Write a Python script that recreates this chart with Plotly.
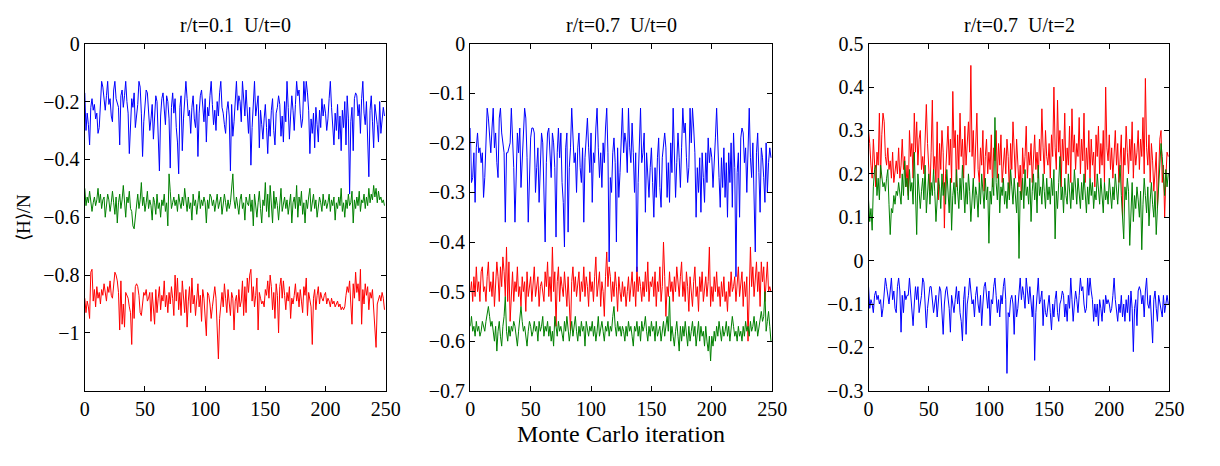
import plotly.graph_objects as go

# Monte Carlo iteration axis (250 sweeps per run)
iterations = list(range(250))

panel_titles = ["r/t=0.1\u00a0\u00a0U/t=0", "r/t=0.7\u00a0\u00a0U/t=0", "r/t=0.7\u00a0\u00a0U/t=2"]

# ---- panel 1: r/t=0.1, U/t=0 ----
p1_blue = [
    -0.17, -0.30, -0.24, -0.28, -0.35, -0.22, -0.19, -0.23, -0.21, -0.26, -0.24, -0.31, -0.29, -0.18, -0.13, -0.15, -0.20, -0.23, -0.18, -0.13, -0.21, -0.19, -0.25, -0.27, -0.16,
    -0.13, -0.19, -0.21, -0.22, -0.35, -0.18, -0.16, -0.22, -0.18, -0.13, -0.20, -0.24, -0.38, -0.27, -0.19, -0.22, -0.17, -0.29, -0.25, -0.21, -0.13, -0.15, -0.24, -0.39, -0.27,
    -0.20, -0.16, -0.17, -0.22, -0.30, -0.26, -0.21, -0.33, -0.24, -0.18, -0.20, -0.30, -0.44, -0.25, -0.19, -0.17, -0.22, -0.28, -0.18, -0.20, -0.26, -0.43, -0.22, -0.17, -0.24,
    -0.19, -0.29, -0.34, -0.45, -0.22, -0.18, -0.37, -0.26, -0.21, -0.13, -0.19, -0.25, -0.23, -0.31, -0.22, -0.18, -0.26, -0.29, -0.21, -0.39, -0.24, -0.18, -0.16, -0.21, -0.27,
    -0.19, -0.34, -0.22, -0.25, -0.18, -0.13, -0.21, -0.28, -0.23, -0.30, -0.20, -0.25, -0.17, -0.13, -0.22, -0.24, -0.28, -0.31, -0.23, -0.20, -0.25, -0.44, -0.21, -0.32, -0.27,
    -0.19, -0.13, -0.23, -0.18, -0.20, -0.27, -0.13, -0.21, -0.25, -0.16, -0.23, -0.31, -0.22, -0.42, -0.29, -0.19, -0.13, -0.25, -0.22, -0.18, -0.36, -0.23, -0.28, -0.33, -0.26,
    -0.21, -0.29, -0.38, -0.26, -0.32, -0.23, -0.19, -0.30, -0.35, -0.24, -0.22, -0.18, -0.21, -0.32, -0.25, -0.34, -0.20, -0.27, -0.13, -0.22, -0.33, -0.25, -0.18, -0.23, -0.30,
    -0.21, -0.13, -0.18, -0.16, -0.24, -0.29, -0.26, -0.13, -0.20, -0.13, -0.17, -0.23, -0.38, -0.26, -0.31, -0.24, -0.36, -0.22, -0.28, -0.34, -0.23, -0.29, -0.19, -0.25, -0.21,
    -0.24, -0.30, -0.26, -0.19, -0.13, -0.22, -0.28, -0.35, -0.24, -0.30, -0.21, -0.33, -0.25, -0.37, -0.23, -0.29, -0.20, -0.35, -0.18, -0.26, -0.52, -0.27, -0.22, -0.37, -0.19,
    -0.17, -0.18, -0.25, -0.21, -0.31, -0.19, -0.13, -0.24, -0.28, -0.20, -0.34, -0.46, -0.23, -0.18, -0.27, -0.36, -0.21, -0.24, -0.28, -0.34, -0.20, -0.31, -0.25, -0.22, -0.25,
]
p1_green = [
    -0.50, -0.56, -0.53, -0.55, -0.51, -0.54, -0.58, -0.55, -0.53, -0.56, -0.54, -0.50, -0.55, -0.52, -0.57, -0.54, -0.53, -0.60, -0.56, -0.52, -0.54, -0.58, -0.55, -0.51, -0.55,
    -0.59, -0.53, -0.62, -0.55, -0.52, -0.57, -0.54, -0.49, -0.56, -0.60, -0.53, -0.55, -0.51, -0.57, -0.58, -0.63, -0.64, -0.59, -0.55, -0.52, -0.57, -0.54, -0.48, -0.56, -0.53,
    -0.58, -0.55, -0.51, -0.57, -0.54, -0.56, -0.61, -0.53, -0.55, -0.59, -0.52, -0.57, -0.55, -0.60, -0.54, -0.56, -0.52, -0.58, -0.55, -0.63, -0.45, -0.51, -0.57, -0.55, -0.53,
    -0.56, -0.54, -0.58, -0.52, -0.55, -0.57, -0.53, -0.56, -0.50, -0.55, -0.58, -0.53, -0.57, -0.55, -0.61, -0.52, -0.56, -0.54, -0.59, -0.55, -0.51, -0.57, -0.54, -0.56, -0.53,
    -0.55, -0.62, -0.54, -0.57, -0.52, -0.53, -0.56, -0.54, -0.58, -0.55, -0.52, -0.57, -0.55, -0.53, -0.59, -0.56, -0.52, -0.55, -0.58, -0.54, -0.57, -0.55, -0.51, -0.45, -0.54,
    -0.57, -0.53, -0.56, -0.59, -0.54, -0.52, -0.57, -0.55, -0.61, -0.53, -0.55, -0.56, -0.52, -0.58, -0.54, -0.63, -0.52, -0.56, -0.60, -0.55, -0.51, -0.57, -0.62, -0.54, -0.56,
    -0.48, -0.58, -0.52, -0.60, -0.49, -0.55, -0.62, -0.51, -0.57, -0.53, -0.56, -0.61, -0.54, -0.50, -0.58, -0.55, -0.53, -0.57, -0.54, -0.59, -0.56, -0.52, -0.62, -0.55, -0.53,
    -0.57, -0.49, -0.60, -0.53, -0.56, -0.51, -0.59, -0.55, -0.62, -0.54, -0.57, -0.53, -0.50, -0.58, -0.55, -0.52, -0.57, -0.54, -0.60, -0.56, -0.53, -0.55, -0.58, -0.52, -0.56,
    -0.54, -0.57, -0.55, -0.52, -0.58, -0.54, -0.56, -0.53, -0.61, -0.55, -0.57, -0.53, -0.56, -0.50, -0.58, -0.55, -0.60, -0.54, -0.57, -0.52, -0.56, -0.55, -0.51, -0.62, -0.54,
    -0.57, -0.53, -0.56, -0.51, -0.58, -0.54, -0.55, -0.52, -0.57, -0.53, -0.56, -0.50, -0.55, -0.52, -0.54, -0.49, -0.53, -0.50, -0.55, -0.51, -0.54, -0.53, -0.55, -0.54, -0.56,
]
p1_red = [
    -0.88, -0.93, -0.89, -0.91, -0.95, -0.79, -0.78, -0.89, -0.85, -0.91, -0.84, -0.88, -0.86, -0.90, -0.85, -0.87, -0.83, -0.86, -0.89, -0.84, -0.86, -0.82, -0.87, -0.88, -0.83,
    -0.79, -0.80, -0.82, -0.86, -0.99, -0.82, -0.97, -0.90, -0.98, -0.86, -0.87, -0.88, -0.91, -0.93, -1.04, -0.86, -0.95, -0.84, -0.83, -0.84, -0.87, -0.93, -0.94, -0.89, -0.86,
    -0.87, -0.85, -0.89, -0.88, -0.86, -0.96, -0.86, -0.91, -0.97, -0.85, -0.93, -0.88, -0.84, -0.92, -0.87, -0.89, -0.82, -0.91, -0.87, -0.93, -0.86, -0.90, -0.84, -0.88, -0.94,
    -0.80, -0.89, -0.81, -0.92, -0.86, -0.94, -0.82, -0.87, -0.93, -0.85, -0.98, -0.89, -0.84, -0.93, -0.81, -0.90, -0.87, -0.94, -0.86, -0.83, -0.91, -0.87, -0.96, -0.85, -0.88,
    -0.94, -1.01, -0.86, -0.87, -0.90, -0.95, -0.91, -0.86, -0.84, -0.88, -0.97, -1.09, -0.95, -0.89, -0.86, -0.91, -0.83, -0.88, -0.93, -0.85, -0.91, -0.94, -0.86, -0.88, -0.99,
    -0.89, -0.87, -0.93, -0.85, -0.91, -0.89, -0.82, -0.94, -0.84, -0.93, -0.81, -0.86, -0.80, -0.78, -0.89, -0.84, -0.91, -0.87, -0.81, -0.99, -0.86, -0.88, -0.90, -0.89, -0.91,
    -0.85, -0.87, -0.82, -0.88, -0.80, -0.84, -0.92, -0.86, -0.95, -0.83, -0.87, -1.00, -0.84, -0.81, -0.88, -0.82, -0.87, -0.92, -0.86, -0.89, -0.84, -0.95, -0.88, -0.90, -0.87,
    -0.83, -0.89, -0.86, -0.91, -0.85, -0.89, -0.93, -0.84, -0.87, -0.81, -0.94, -0.86, -0.89, -0.91, -1.04, -0.88, -0.85, -0.92, -0.87, -0.84, -0.90, -0.86, -0.88, -0.89, -0.87,
    -0.86, -0.90, -0.88, -0.89, -0.91, -0.88, -0.90, -0.89, -0.91, -0.90, -0.89, -0.91, -0.90, -0.92, -0.91, -0.92, -0.91, -0.87, -0.84, -0.86, -0.82, -0.90, -0.97, -0.83, -0.88,
    -0.79, -0.86, -0.83, -0.89, -0.78, -0.97, -0.85, -0.90, -0.83, -0.87, -0.84, -0.92, -0.86, -0.88, -0.85, -0.92, -0.98, -1.05, -0.90, -0.88, -0.87, -0.89, -0.86, -0.88, -0.92,
]

# ---- panel 2: r/t=0.7, U/t=0 ----
p2_blue = [
    -0.17, -0.28, -0.27, -0.22, -0.32, -0.21, -0.18, -0.22, -0.21, -0.24, -0.22, -0.31, -0.27, -0.17, -0.13, -0.15, -0.19, -0.22, -0.17, -0.13, -0.21, -0.18, -0.24, -0.27, -0.15,
    -0.13, -0.18, -0.20, -0.22, -0.36, -0.22, -0.22, -0.21, -0.20, -0.13, -0.19, -0.25, -0.36, -0.26, -0.18, -0.22, -0.17, -0.29, -0.24, -0.21, -0.13, -0.15, -0.23, -0.36, -0.26,
    -0.19, -0.17, -0.17, -0.18, -0.30, -0.25, -0.21, -0.32, -0.23, -0.18, -0.20, -0.29, -0.40, -0.24, -0.18, -0.17, -0.21, -0.27, -0.18, -0.20, -0.25, -0.39, -0.22, -0.17, -0.23,
    -0.18, -0.28, -0.32, -0.41, -0.21, -0.18, -0.38, -0.25, -0.21, -0.13, -0.18, -0.24, -0.22, -0.30, -0.21, -0.18, -0.25, -0.28, -0.21, -0.36, -0.23, -0.18, -0.15, -0.21, -0.26,
    -0.18, -0.32, -0.22, -0.24, -0.17, -0.13, -0.21, -0.27, -0.22, -0.29, -0.20, -0.24, -0.17, -0.13, -0.22, -0.44, -0.27, -0.30, -0.22, -0.19, -0.24, -0.40, -0.21, -0.31, -0.26,
    -0.19, -0.13, -0.22, -0.18, -0.20, -0.26, -0.13, -0.21, -0.24, -0.16, -0.22, -0.30, -0.22, -0.46, -0.28, -0.19, -0.13, -0.24, -0.22, -0.18, -0.34, -0.22, -0.27, -0.31, -0.25,
    -0.21, -0.28, -0.35, -0.25, -0.31, -0.23, -0.19, -0.29, -0.33, -0.23, -0.21, -0.18, -0.21, -0.31, -0.24, -0.32, -0.20, -0.26, -0.13, -0.22, -0.31, -0.24, -0.18, -0.23, -0.29,
    -0.21, -0.13, -0.18, -0.16, -0.23, -0.28, -0.25, -0.13, -0.20, -0.13, -0.17, -0.22, -0.35, -0.25, -0.30, -0.23, -0.34, -0.22, -0.27, -0.32, -0.22, -0.28, -0.19, -0.24, -0.21,
    -0.23, -0.29, -0.25, -0.19, -0.13, -0.22, -0.27, -0.33, -0.23, -0.29, -0.21, -0.31, -0.24, -0.35, -0.22, -0.28, -0.20, -0.33, -0.18, -0.25, -0.47, -0.26, -0.22, -0.35, -0.19,
    -0.17, -0.18, -0.24, -0.21, -0.30, -0.19, -0.13, -0.23, -0.27, -0.20, -0.32, -0.42, -0.22, -0.18, -0.26, -0.34, -0.21, -0.23, -0.27, -0.32, -0.20, -0.30, -0.24, -0.21, -0.23,
]
p2_green = [
    -0.57, -0.55, -0.58, -0.57, -0.59, -0.56, -0.58, -0.57, -0.59, -0.58, -0.56, -0.57, -0.58, -0.56, -0.54, -0.53, -0.55, -0.57, -0.56, -0.58, -0.60, -0.57, -0.62, -0.58, -0.56,
    -0.59, -0.61, -0.57, -0.55, -0.51, -0.58, -0.60, -0.57, -0.59, -0.57, -0.58, -0.56, -0.57, -0.59, -0.61, -0.58, -0.55, -0.53, -0.56, -0.58, -0.57, -0.59, -0.61, -0.58, -0.56,
    -0.57, -0.59, -0.58, -0.56, -0.58, -0.57, -0.60, -0.56, -0.58, -0.57, -0.55, -0.59, -0.57, -0.58, -0.56, -0.59, -0.57, -0.60, -0.58, -0.61, -0.55, -0.57, -0.59, -0.56, -0.58,
    -0.57, -0.59, -0.60, -0.56, -0.58, -0.55, -0.57, -0.60, -0.58, -0.56, -0.59, -0.57, -0.55, -0.58, -0.60, -0.57, -0.59, -0.56, -0.58, -0.57, -0.61, -0.56, -0.58, -0.59, -0.57,
    -0.58, -0.56, -0.59, -0.57, -0.60, -0.58, -0.55, -0.59, -0.57, -0.56, -0.58, -0.60, -0.57, -0.58, -0.56, -0.59, -0.57, -0.58, -0.55, -0.53, -0.57, -0.59, -0.56, -0.58, -0.57,
    -0.59, -0.57, -0.58, -0.60, -0.57, -0.59, -0.56, -0.58, -0.57, -0.59, -0.61, -0.57, -0.58, -0.56, -0.59, -0.57, -0.60, -0.56, -0.58, -0.57, -0.55, -0.58, -0.60, -0.57, -0.59,
    -0.56, -0.58, -0.57, -0.60, -0.56, -0.59, -0.58, -0.57, -0.60, -0.58, -0.56, -0.59, -0.57, -0.55, -0.58, -0.51, -0.60, -0.57, -0.59, -0.61, -0.58, -0.56, -0.59, -0.62, -0.57,
    -0.60, -0.57, -0.59, -0.56, -0.58, -0.61, -0.57, -0.60, -0.58, -0.56, -0.59, -0.57, -0.61, -0.58, -0.56, -0.60, -0.57, -0.59, -0.58, -0.61, -0.57, -0.60, -0.62, -0.59, -0.64,
    -0.59, -0.61, -0.58, -0.60, -0.57, -0.59, -0.56, -0.58, -0.60, -0.57, -0.59, -0.58, -0.56, -0.59, -0.57, -0.60, -0.58, -0.55, -0.57, -0.59, -0.58, -0.60, -0.57, -0.59, -0.58,
    -0.60, -0.57, -0.59, -0.56, -0.58, -0.57, -0.59, -0.56, -0.58, -0.57, -0.55, -0.58, -0.56, -0.59, -0.57, -0.55, -0.54, -0.56, -0.55, -0.50, -0.58, -0.56, -0.54, -0.57, -0.60,
]
p2_red = [
    -0.50, -0.48, -0.52, -0.47, -0.51, -0.45, -0.50, -0.48, -0.52, -0.46, -0.45, -0.50, -0.49, -0.52, -0.47, -0.44, -0.50, -0.48, -0.51, -0.46, -0.53, -0.49, -0.44, -0.47, -0.52,
    -0.45, -0.49, -0.43, -0.46, -0.51, -0.41, -0.52, -0.44, -0.56, -0.49, -0.46, -0.52, -0.48, -0.50, -0.45, -0.51, -0.49, -0.53, -0.47, -0.50, -0.48, -0.54, -0.46, -0.51, -0.49,
    -0.47, -0.52, -0.48, -0.45, -0.51, -0.49, -0.47, -0.53, -0.49, -0.48, -0.50, -0.52, -0.46, -0.49, -0.44, -0.51, -0.47, -0.52, -0.41, -0.50, -0.46, -0.57, -0.48, -0.45, -0.52,
    -0.47, -0.49, -0.51, -0.46, -0.50, -0.53, -0.47, -0.52, -0.58, -0.48, -0.45, -0.50, -0.47, -0.51, -0.49, -0.46, -0.52, -0.48, -0.50, -0.45, -0.51, -0.47, -0.49, -0.53, -0.46,
    -0.50, -0.48, -0.52, -0.47, -0.43, -0.51, -0.49, -0.46, -0.53, -0.48, -0.50, -0.55, -0.47, -0.42, -0.49, -0.45, -0.47, -0.52, -0.48, -0.51, -0.46, -0.49, -0.54, -0.47, -0.50,
    -0.52, -0.48, -0.51, -0.49, -0.53, -0.50, -0.47, -0.52, -0.49, -0.46, -0.51, -0.48, -0.53, -0.45, -0.50, -0.47, -0.49, -0.52, -0.48, -0.51, -0.46, -0.50, -0.44, -0.52, -0.48,
    -0.49, -0.47, -0.51, -0.46, -0.53, -0.48, -0.50, -0.45, -0.52, -0.49, -0.40, -0.47, -0.55, -0.49, -0.51, -0.46, -0.50, -0.48, -0.52, -0.47, -0.50, -0.45, -0.49, -0.51, -0.47,
    -0.44, -0.51, -0.48, -0.52, -0.46, -0.49, -0.54, -0.47, -0.50, -0.53, -0.48, -0.45, -0.51, -0.49, -0.54, -0.47, -0.50, -0.46, -0.52, -0.49, -0.47, -0.51, -0.48, -0.41, -0.53,
    -0.49, -0.52, -0.47, -0.50, -0.46, -0.51, -0.49, -0.53, -0.48, -0.51, -0.47, -0.52, -0.50, -0.54, -0.48, -0.51, -0.46, -0.50, -0.49, -0.47, -0.52, -0.48, -0.45, -0.51, -0.49,
    -0.46, -0.53, -0.48, -0.51, -0.47, -0.60, -0.52, -0.41, -0.49, -0.45, -0.51, -0.47, -0.44, -0.50, -0.46, -0.53, -0.44, -0.48, -0.45, -0.52, -0.47, -0.44, -0.50, -0.49, -0.50,
]

# ---- panel 3: r/t=0.7, U/t=2 ----
p3_blue = [
    -0.06, -0.11, -0.09, -0.10, -0.12, -0.08, -0.07, -0.09, -0.08, -0.10, -0.09, -0.13, -0.11, -0.07, -0.04, -0.06, -0.08, -0.10, -0.07, -0.04, -0.09, -0.07, -0.11, -0.12, -0.06,
    -0.04, -0.07, -0.165, -0.08, -0.12, -0.07, -0.09, -0.08, -0.08, -0.04, -0.08, -0.11, -0.15, -0.10, -0.06, -0.09, -0.06, -0.12, -0.10, -0.08, -0.04, -0.05, -0.10, -0.155, -0.11,
    -0.08, -0.06, -0.06, -0.09, -0.12, -0.10, -0.08, -0.13, -0.09, -0.06, -0.07, -0.12, -0.17, -0.10, -0.07, -0.06, -0.09, -0.11, -0.165, -0.08, -0.10, -0.12, -0.09, -0.06, -0.10,
    -0.07, -0.12, -0.14, -0.185, -0.09, -0.06, -0.17, -0.10, -0.08, -0.04, -0.07, -0.10, -0.09, -0.13, -0.08, -0.06, -0.10, -0.12, -0.08, -0.15, -0.10, -0.06, -0.05, -0.08, -0.11,
    -0.07, -0.15, -0.09, -0.10, -0.06, -0.04, -0.08, -0.12, -0.09, -0.13, -0.08, -0.10, -0.06, -0.04, -0.09, -0.26, -0.12, -0.13, -0.09, -0.08, -0.10, -0.17, -0.08, -0.13, -0.11,
    -0.07, -0.04, -0.09, -0.06, -0.08, -0.11, -0.04, -0.08, -0.10, -0.06, -0.09, -0.13, -0.08, -0.23, -0.12, -0.07, -0.04, -0.10, -0.09, -0.07, -0.15, -0.09, -0.12, -0.13, -0.10,
    -0.08, -0.12, -0.16, -0.10, -0.13, -0.09, -0.07, -0.12, -0.14, -0.10, -0.09, -0.07, -0.08, -0.13, -0.10, -0.14, -0.08, -0.11, -0.04, -0.09, -0.14, -0.10, -0.07, -0.09, -0.12,
    -0.08, -0.04, -0.07, -0.06, -0.10, -0.12, -0.11, -0.04, -0.08, -0.04, -0.07, -0.09, -0.14, -0.10, -0.13, -0.10, -0.15, -0.09, -0.11, -0.14, -0.09, -0.12, -0.08, -0.10, -0.09,
    -0.10, -0.12, -0.11, -0.08, -0.04, -0.09, -0.12, -0.14, -0.10, -0.12, -0.08, -0.13, -0.10, -0.14, -0.09, -0.12, -0.08, -0.14, -0.07, -0.11, -0.21, -0.11, -0.09, -0.15, -0.07,
    -0.06, -0.07, -0.10, -0.08, -0.13, -0.07, -0.04, -0.10, -0.11, -0.08, -0.14, -0.19, -0.09, -0.07, -0.11, -0.14, -0.08, -0.10, -0.12, -0.13, -0.08, -0.12, -0.10, -0.08, -0.10,
]
p3_green = [
    0.14, 0.09, 0.12, 0.07, 0.17, 0.21, 0.22, 0.15, 0.19, 0.14, 0.22, 0.20, 0.17, 0.18, 0.16, 0.19, 0.21, 0.13, 0.06, 0.12, 0.11, 0.15, 0.13, 0.16, 0.15,
    0.18, 0.16, 0.13, 0.20, 0.15, 0.23, 0.17, 0.19, 0.14, 0.21, 0.16, 0.18, 0.13, 0.25, 0.17, 0.06, 0.20, 0.15, 0.12, 0.16, 0.19, 0.14, 0.22, 0.11, 0.17,
    0.20, 0.13, 0.18, 0.15, 0.21, 0.16, 0.09, 0.14, 0.19, 0.17, 0.12, 0.20, 0.15, 0.18, 0.13, 0.21, 0.16, 0.11, 0.19, 0.07, 0.15, 0.18, 0.13, 0.21, 0.16,
    0.12, 0.19, 0.14, 0.22, 0.15, 0.11, 0.18, 0.13, 0.20, 0.16, 0.09, 0.14, 0.19, 0.12, 0.17, 0.15, 0.10, 0.18, 0.13, 0.20, 0.16, 0.12, 0.19, 0.14, 0.17,
    0.04, 0.16, 0.13, 0.19, 0.15, 0.33, 0.18, 0.14, 0.20, 0.11, 0.17, 0.15, 0.19, 0.13, 0.16, 0.12, 0.18, 0.14, 0.21, 0.17, 0.13, 0.19, 0.15, 0.11, 0.18,
    0.005, 0.16, 0.14, 0.19, 0.12, 0.21, 0.15, 0.17, 0.13, 0.19, 0.09, 0.16, 0.20, 0.14, 0.18, 0.11, 0.22, 0.15, 0.17, 0.13, 0.20, 0.16, 0.12, 0.19, 0.14,
    0.17, 0.13, 0.19, 0.15, 0.21, 0.05, 0.16, 0.12, 0.18, 0.24, 0.14, 0.17, 0.11, 0.19, 0.15, 0.13, 0.20, 0.16, 0.12, 0.18, 0.14, 0.21, 0.17, 0.13, 0.19,
    0.15, 0.12, 0.18, 0.14, 0.20, 0.16, 0.11, 0.17, 0.13, 0.19, 0.15, 0.18, 0.12, 0.16, 0.14, 0.20, 0.17, 0.13, 0.19, 0.15, 0.11, 0.18, 0.14, 0.16, 0.13,
    0.19, 0.15, 0.12, 0.17, 0.14, 0.20, 0.16, 0.13, 0.18, 0.22, 0.15, 0.11, 0.05, 0.17, 0.14, 0.19, 0.16, 0.035, 0.13, 0.18, 0.09, 0.15, 0.12, 0.17, 0.14,
    0.10, 0.16, 0.025, 0.13, 0.19, 0.15, 0.11, 0.17, 0.08, 0.14, 0.18, 0.13, 0.10, 0.16, 0.06, 0.12, 0.18, 0.22, 0.27, 0.24, 0.19, 0.15, 0.21, 0.17, 0.20,
]
p3_red = [
    0.30, 0.27, 0.22, 0.19, 0.28, 0.20, 0.17, 0.25, 0.22, 0.34, 0.19, 0.29, 0.34, 0.32, 0.24, 0.22, 0.26, 0.21, 0.23, 0.19, 0.25, 0.18, 0.21, 0.23, 0.20,
    0.26, 0.19, 0.22, 0.28, 0.21, 0.24, 0.17, 0.22, 0.15, 0.30, 0.24, 0.27, 0.19, 0.34, 0.25, 0.32, 0.22, 0.28, 0.30, 0.21, 0.24, 0.20, 0.28, 0.36, 0.27,
    0.22, 0.16, 0.25, 0.37, 0.20, 0.24, 0.18, 0.32, 0.14, 0.27, 0.21, 0.30, 0.25, 0.075, 0.20, 0.27, 0.31, 0.22, 0.28, 0.18, 0.39, 0.26, 0.30, 0.17, 0.29,
    0.21, 0.34, 0.24, 0.28, 0.19, 0.31, 0.22, 0.26, 0.32, 0.25, 0.45, 0.24, 0.30, 0.19, 0.27, 0.34, 0.21, 0.18, 0.26, 0.22, 0.30, 0.16, 0.24, 0.28, 0.20,
    0.25, 0.21, 0.29, 0.17, 0.26, 0.23, 0.30, 0.19, 0.27, 0.22, 0.29, 0.18, 0.23, 0.26, 0.20, 0.28, 0.24, 0.15, 0.27, 0.21, 0.32, 0.25, 0.19, 0.28, 0.23,
    0.17, 0.22, 0.14, 0.26, 0.20, 0.24, 0.31, 0.19, 0.25, 0.22, 0.27, 0.18, 0.23, 0.29, 0.21, 0.25, 0.19, 0.28, 0.23, 0.35, 0.26, 0.20, 0.30, 0.24, 0.22,
    0.27, 0.19, 0.29, 0.24, 0.40, 0.26, 0.21, 0.37, 0.25, 0.30, 0.17, 0.28, 0.23, 0.34, 0.20, 0.26, 0.22, 0.31, 0.18, 0.35, 0.25, 0.29, 0.21, 0.27, 0.24,
    0.33, 0.20, 0.28, 0.23, 0.34, 0.18, 0.26, 0.21, 0.30, 0.19, 0.28, 0.22, 0.25, 0.17, 0.29, 0.24, 0.31, 0.20, 0.27, 0.22, 0.30, 0.18, 0.40, 0.26, 0.23,
    0.29, 0.21, 0.26, 0.19, 0.25, 0.30, 0.22, 0.27, 0.18, 0.24, 0.29, 0.10, 0.26, 0.22, 0.31, 0.25, 0.20, 0.28, 0.23, 0.32, 0.19, 0.27, 0.22, 0.25, 0.30,
    0.21, 0.28, 0.24, 0.33, 0.20, 0.42, 0.26, 0.22, 0.29, 0.18, 0.27, 0.23, 0.16, 0.21, 0.25, 0.12, 0.20, 0.28, 0.30, 0.18, 0.22, 0.10, 0.19, 0.25, 0.24,
]

# y-axis ticks per panel
y_ranges = [[-1.2, 0], [-0.7, 0], [-0.3, 0.5]]
y_tickvals = [
    [-1, -0.8, -0.6, -0.4, -0.2, 0],
    [-0.7, -0.6, -0.5, -0.4, -0.3, -0.2, -0.1, 0],
    [-0.3, -0.2, -0.1, 0, 0.1, 0.2, 0.3, 0.4, 0.5],
]
y_ticktext = [
    ["\u22121", "\u22120.8", "\u22120.6", "\u22120.4", "\u22120.2", "0"],
    ["\u22120.7", "\u22120.6", "\u22120.5", "\u22120.4", "\u22120.3", "\u22120.2", "\u22120.1", "0"],
    ["\u22120.3", "\u22120.2", "\u22120.1", "0", "0.1", "0.2", "0.3", "0.4", "0.5"],
]
x_tickvals = [0, 50, 100, 150, 200, 250]

panels = [
    (p1_red, p1_green, p1_blue),
    (p2_red, p2_green, p2_blue),
    (p3_red, p3_green, p3_blue),
]
colors = ["#ff0000", "#008000", "#0000ff"]

# the page keeps its default 8px body margin, so the figure is 16px
# smaller than the window and everything is placed 8px up/left
W, H = 1204, 447
OFF = 8
x_domains = [[(81 - OFF) / W, (387 - OFF) / W],
             [(473 - OFF) / W, (780 - OFF) / W],
             [(878 - OFF) / W, (1184 - OFF) / W]]
y_domain = [1 - (399 - OFF) / H, 1 - (34 - OFF) / H]
FONT = "Liberation Serif, Times New Roman, serif"

fig = go.Figure()

for i, series in enumerate(panels):
    sfx = "" if i == 0 else str(i + 1)
    for ys, c in zip(series, colors):
        fig.add_trace(go.Scatter(
            x=iterations, y=ys, mode="lines",
            line=dict(color=c, width=1),
            xaxis="x" + sfx, yaxis="y" + sfx,
            showlegend=False, hoverinfo="skip",
        ))
    axis_common = dict(
        showline=True, linecolor="black", linewidth=1.3, mirror="allticks",
        ticks="inside", ticklen=5, tickcolor="black", tickwidth=1,
        showgrid=False, zeroline=False,
        tickfont=dict(family=FONT, size=20, color="black"),
    )
    fig.layout["xaxis" + sfx] = dict(
        axis_common, domain=x_domains[i], anchor="y" + sfx,
        range=[0, 250], tickmode="array", tickvals=x_tickvals,
    )
    fig.layout["yaxis" + sfx] = dict(
        axis_common, domain=y_domain, anchor="x" + sfx,
        range=y_ranges[i], tickmode="array",
        tickvals=y_tickvals[i], ticktext=y_ticktext[i],
    )
    fig.add_annotation(
        text=panel_titles[i], xref="paper", yref="paper",
        x=sum(x_domains[i]) / 2, y=1 - (14 - OFF) / H, xanchor="center", yanchor="middle",
        showarrow=False, font=dict(family=FONT, size=20, color="black"),
    )

fig.add_annotation(
    text="\u27e8H\u27e9/N", xref="paper", yref="paper",
    x=(18 - OFF) / W, y=sum(y_domain) / 2, textangle=-90,
    xanchor="center", yanchor="middle", showarrow=False,
    font=dict(family=FONT, size=19, color="black"),
)
fig.add_annotation(
    text="Monte Carlo iteration", xref="paper", yref="paper",
    x=sum(x_domains[1]) / 2, y=1 - (445 - OFF) / H, xanchor="center", yanchor="middle",
    showarrow=False, font=dict(family=FONT, size=24, color="black"),
)

fig.update_layout(
    width=W, height=H,
    margin=dict(l=0, r=0, t=0, b=0),
    paper_bgcolor="white", plot_bgcolor="white",
)

fig.write_html("out.html", config={"displayModeBar": False})
